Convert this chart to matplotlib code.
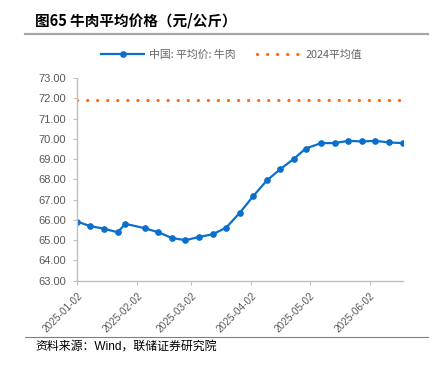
import matplotlib
matplotlib.use("Agg")
import matplotlib.pyplot as plt
import pandas as pd

plt.rcParams['font.family'] = ['Liberation Sans', 'Noto Sans CJK SC', 'DejaVu Sans']

dates = pd.to_datetime([
    "2025-01-02", "2025-01-09", "2025-01-16", "2025-01-23", "2025-01-27",
    "2025-02-06", "2025-02-13", "2025-02-20", "2025-02-27", "2025-03-06",
    "2025-03-13", "2025-03-20", "2025-03-27", "2025-04-03", "2025-04-10",
    "2025-04-17", "2025-04-24", "2025-04-30", "2025-05-08", "2025-05-15",
    "2025-05-22", "2025-05-29", "2025-06-05", "2025-06-12", "2025-06-19",
])
beef_price = [65.92, 65.69, 65.57, 65.39, 65.81, 65.59, 65.39, 65.11, 65.00, 65.16,
              65.29, 65.62, 66.35, 67.18, 67.95, 68.51, 69.02, 69.52, 69.79, 69.79,
              69.90, 69.87, 69.90, 69.82, 69.79]
avg_2024 = 71.89

tick_dates = pd.to_datetime(["2025-01-02", "2025-02-02", "2025-03-02",
                             "2025-04-02", "2025-05-02", "2025-06-02"])
yticks = [63, 64, 65, 66, 67, 68, 69, 70, 71, 72, 73]

blue = "#0a6fcc"
orange = "#ff6a10"
gray_txt = "#595959"
spine = "#bfbfbf"

fig = plt.figure(figsize=(4.32, 3.67), dpi=100)
ax = fig.add_axes([0.178, 0.235, 0.754, 0.5525])

ax.plot(dates, beef_price, color=blue, lw=1.6, marker="o", markersize=3.8,
        label="中国: 平均价: 牛肉")
ax.plot(dates, [avg_2024] * len(dates), color=orange, lw=2.3,
        linestyle=(0, (0.05, 3.1)), dash_capstyle="round", label="2024平均值")

ax.set_xlim(dates[0], dates[-1])
ax.set_ylim(63, 73)
ax.set_yticks(yticks)
ax.set_yticklabels([f"{v:.2f}" for v in yticks], fontsize=8, color=gray_txt)
ax.set_xticks(tick_dates)
ax.set_xticklabels([d.strftime("%Y-%m-%d") for d in tick_dates], fontsize=7.2,
                   color=gray_txt, rotation=45, ha="right", va="top",
                   rotation_mode="anchor")
ax.tick_params(axis="y", length=3, width=0.8, color=spine, pad=5)
ax.tick_params(axis="x", length=3, width=0.8, color=spine, pad=4)

for s in ["top", "right"]:
    ax.spines[s].set_visible(False)
for s in ["left", "bottom"]:
    ax.spines[s].set_color(spine)
    ax.spines[s].set_linewidth(1.0)

leg = ax.legend(loc="lower center", bbox_to_anchor=(0.475, 1.04), ncol=2, frameon=False,
                prop={"family": ["Noto Sans CJK SC"], "size": 7.8},
                handlelength=4.0, columnspacing=2.0, handletextpad=0.45)
for t in leg.get_texts():
    t.set_color("#666666")

fig.text(0.081, 0.945, "图65 牛肉平均价格（元/公斤）", fontsize=10.5, fontweight="bold",
         family=["Noto Sans CJK SC"], va="center", ha="left")
fig.add_artist(plt.Line2D([25 / 432, 428 / 432], [1 - 33.5 / 367] * 2,
                          color="#a6a6a6", lw=1.6))
fig.add_artist(plt.Line2D([25 / 432, 428 / 432], [1 - 337 / 367] * 2,
                          color="#7f7f7f", lw=0.8))
fig.text(0.081, 1 - 347 / 367, "资料来源：Wind，联储证券研究院", fontsize=8.6,
         family=["Liberation Sans", "Noto Sans CJK SC"], va="center", ha="left")

fig.savefig("out.png", dpi=100)
